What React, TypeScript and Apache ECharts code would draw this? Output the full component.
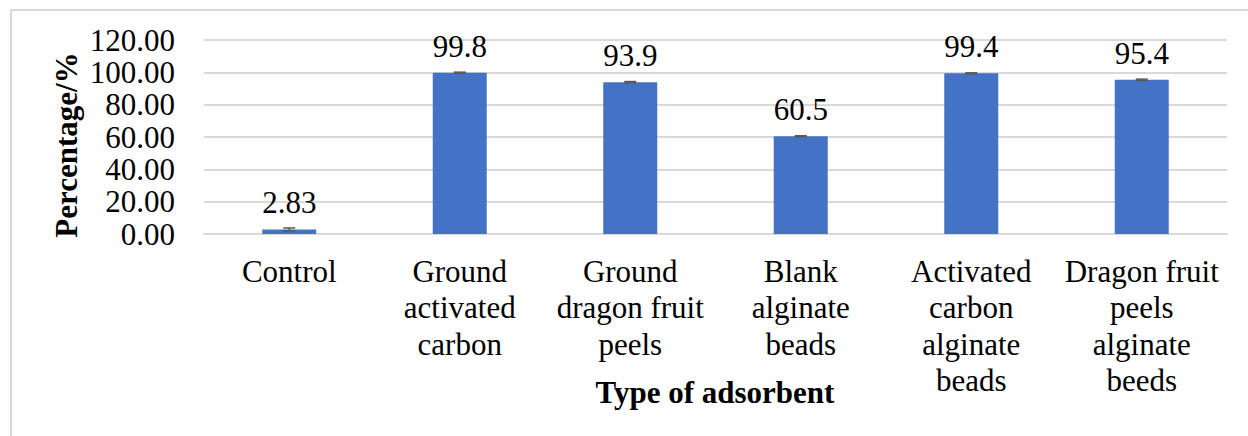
import React, { useEffect, useRef } from "react";
import * as echarts from "echarts";

const categories = [
  "Control",
  "Ground\nactivated\ncarbon",
  "Ground\ndragon fruit\npeels",
  "Blank\nalginate\nbeads",
  "Activated\ncarbon\nalginate\nbeads",
  "Dragon fruit\npeels\nalginate\nbeeds",
];
const values = [2.83, 99.8, 93.9, 60.5, 99.4, 95.4];
const errors = [0.9, 0.3, 0.4, 0.3, 0.3, 0.4];
const yTicks = { min: 0, max: 120, interval: 20 };

const FONT = "Liberation Serif";

export default function App() {
  const ref = useRef<HTMLDivElement>(null);
  useEffect(() => {
    if (!ref.current) return;
    const chart = echarts.init(ref.current, undefined, { renderer: "svg" });
    const errData = values.map((v, i) => [i, v - errors[i], v + errors[i]]);
    chart.setOption({
      animation: false,
      backgroundColor: "#ffffff",
      textStyle: { fontFamily: FONT, fontSize: 31 },
      grid: { left: 204, right: 21, top: 40, bottom: 202, containLabel: false },
      xAxis: {
        type: "category",
        data: categories,
        axisLine: { show: true, lineStyle: { color: "#D9D9D9", width: 2 } },
        axisTick: { show: false },
        axisLabel: {
          interval: 0,
          color: "#000",
          fontFamily: FONT,
          fontSize: 31,
          lineHeight: 36.5,
          margin: 19,
        },
      },
      yAxis: {
        type: "value",
        min: yTicks.min,
        max: yTicks.max,
        interval: yTicks.interval,
        axisLine: { show: false },
        axisTick: { show: false },
        splitLine: { lineStyle: { color: "#D9D9D9", width: 2 } },
        axisLabel: {
          color: "#000",
          fontFamily: FONT,
          fontSize: 31,
          margin: 29,
          formatter: (v: number) => v.toFixed(2),
        },
      },
      series: [
        {
          type: "bar",
          data: values,
          barWidth: 54,
          itemStyle: { color: "#4472C4" },
          label: {
            show: true,
            position: "top",
            distance: 11,
            color: "#000",
            fontFamily: FONT,
            fontSize: 31,
            formatter: (p: any) => String(p.value),
          },
          z: 2,
        },
        {
          type: "custom",
          data: errData,
          z: 3,
          renderItem: (params: any, api: any) => {
            const x = api.value(0);
            const lo = api.coord([x, api.value(1)]);
            const hi = api.coord([x, api.value(2)]);
            const hw = 6;
            const style = { stroke: "#595959", lineWidth: 1.5 };
            return {
              type: "group",
              children: [
                { type: "line", shape: { x1: lo[0], y1: lo[1], x2: hi[0], y2: hi[1] }, style },
                { type: "line", shape: { x1: lo[0] - hw, y1: lo[1], x2: lo[0] + hw, y2: lo[1] }, style },
                { type: "line", shape: { x1: hi[0] - hw, y1: hi[1], x2: hi[0] + hw, y2: hi[1] }, style },
              ],
            };
          },
        },
      ],
      graphic: [
        {
          type: "rect",
          shape: { x: 11, y: 10, width: 1400, height: 600 },
          style: { fill: "none", stroke: "#D9D9D9", lineWidth: 2 },
          silent: true,
        },
        {
          type: "text",
          x: 66,
          y: 145,
          rotation: Math.PI / 2,
          style: {
            text: "Percentage/%",
            fontFamily: FONT,
            fontWeight: "bold",
            fontSize: 31,
            fill: "#000",
            align: "center",
            verticalAlign: "middle",
          },
        },
        {
          type: "text",
          x: 715,
          y: 392,
          style: {
            text: "Type of adsorbent",
            fontFamily: FONT,
            fontWeight: "bold",
            fontSize: 31,
            fill: "#000",
            align: "center",
            verticalAlign: "middle",
          },
        },
      ],
    });
    return () => chart.dispose();
  }, []);
  return (
    <div
      ref={ref}
      style={{ position: "absolute", left: 0, top: 0, width: 1248, height: 436 }}
    />
  );
}
